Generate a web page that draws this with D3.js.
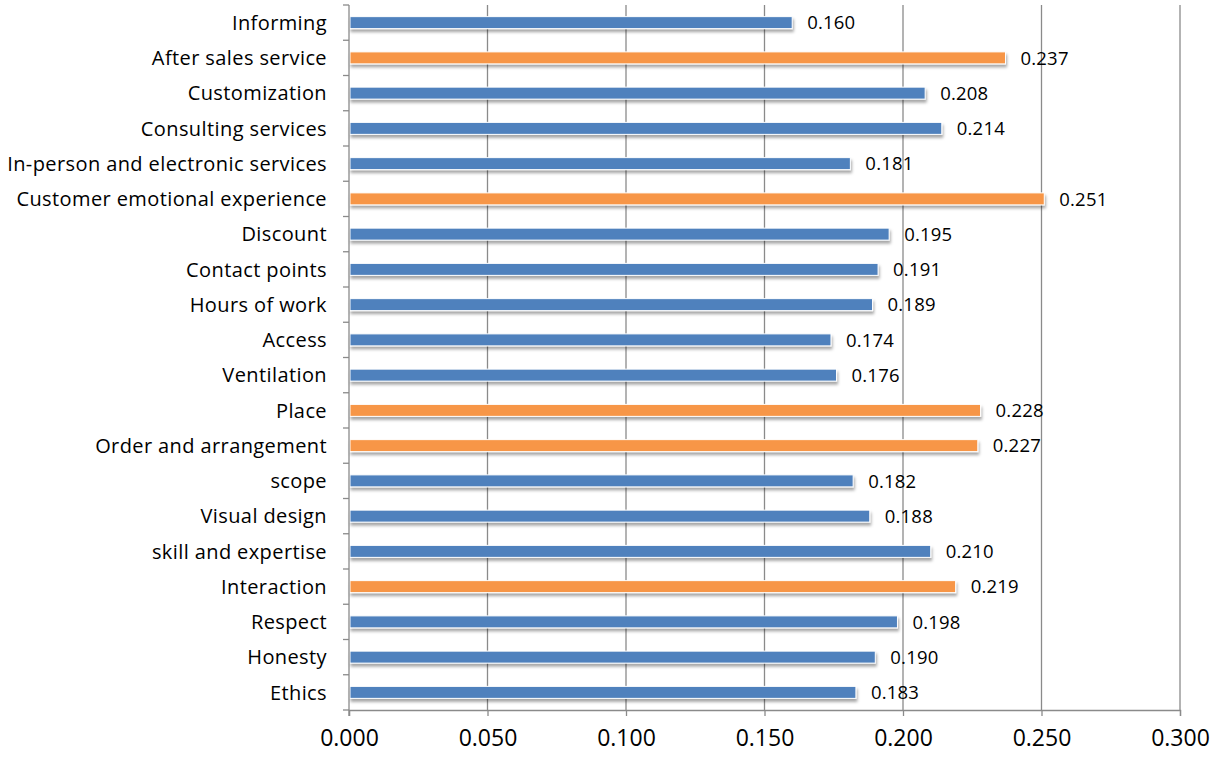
<!DOCTYPE html>
<html>
<head>
<meta charset="utf-8">
<script src="https://cdn.jsdelivr.net/npm/d3@7"></script>
<style>
  html, body { margin: 0; padding: 0; background: #fff; }
  svg { display: block; font-family: "Open Sans", sans-serif; }
</style>
</head>
<body>
<svg id="chart" width="1214" height="760"></svg>
<script>
// Attribute weights, listed top to bottom
const categories = [
  "Informing", "After sales service", "Customization", "Consulting services",
  "In-person and electronic services", "Customer emotional experience", "Discount",
  "Contact points", "Hours of work", "Access", "Ventilation", "Place",
  "Order and arrangement", "scope", "Visual design", "skill and expertise",
  "Interaction", "Respect", "Honesty", "Ethics"
];
const weights = [
  0.160, 0.237, 0.208, 0.214, 0.181, 0.251, 0.195, 0.191, 0.189, 0.174,
  0.176, 0.228, 0.227, 0.182, 0.188, 0.210, 0.219, 0.198, 0.190, 0.183
];
// Attributes drawn in the accent colour
const highlighted = [
  "After sales service", "Customer emotional experience", "Place",
  "Order and arrangement", "Interaction"
];
const xTicks = [0, 0.05, 0.10, 0.15, 0.20, 0.25, 0.30];

const data = categories.map((c, i) => ({ name: c, value: weights[i] }));

const svg = d3.select("#chart");
const margin = { top: 5, right: 34, bottom: 50, left: 349 };
const W = 1214, H = 760;
const innerW = W - margin.left - margin.right;
const innerH = H - margin.top - margin.bottom;

const defs = svg.append("defs");
const shadow = defs.append("filter").attr("id", "barShadow")
  .attr("x", "-5%").attr("y", "-50%").attr("width", "110%").attr("height", "220%");
shadow.append("feDropShadow")
  .attr("dx", 1).attr("dy", 3).attr("stdDeviation", 1.6)
  .attr("flood-color", "#000").attr("flood-opacity", 0.35);

const g = svg.append("g").attr("transform", `translate(${margin.left},${margin.top})`);

const x = d3.scaleLinear().domain([0, 0.3]).range([0, innerW]);
const y = d3.scaleBand().domain(categories).range([0, innerH]).paddingInner(0.66).paddingOuter(0.33);
const yEdge = d3.scaleLinear().domain([0, categories.length]).range([0, innerH]);

// vertical gridlines
g.append("g").selectAll("line")
  .data(xTicks.slice(1))
  .join("line")
  .attr("x1", d => x(d)).attr("x2", d => x(d))
  .attr("y1", 0).attr("y2", innerH)
  .attr("stroke", "#8a8a8a").attr("stroke-width", 1.3);

// bars
g.append("g").selectAll("rect")
  .data(data)
  .join("rect")
  .attr("x", x(0) + 1)
  .attr("y", d => y(d.name))
  .attr("width", d => x(d.value) - x(0) - 1)
  .attr("height", y.bandwidth())
  .attr("fill", d => highlighted.includes(d.name) ? "#F79646" : "#4F81BD")
  .attr("stroke", "#fff").attr("stroke-width", 1)
  .attr("filter", "url(#barShadow)");

// value labels
g.append("g").selectAll("text")
  .data(data)
  .join("text")
  .attr("x", d => x(d.value) + 15)
  .attr("y", d => y(d.name) + y.bandwidth() / 2)
  .attr("dy", "0.37em")
  .attr("font-size", 18.5)
  .attr("letter-spacing", 0.2)
  .attr("fill", "#000")
  .text(d => d3.format(".3f")(d.value));

// y axis line + ticks at category edges
const axisColor = "#8a8a8a";
g.append("line")
  .attr("x1", 0).attr("x2", 0).attr("y1", 0).attr("y2", innerH + 6)
  .attr("stroke", axisColor).attr("stroke-width", 1.3);
g.append("g").selectAll("line")
  .data(d3.range(categories.length + 1))
  .join("line")
  .attr("x1", -6).attr("x2", 0)
  .attr("y1", d => yEdge(d)).attr("y2", d => yEdge(d))
  .attr("stroke", axisColor).attr("stroke-width", 1.3);

// category labels
g.append("g").selectAll("text")
  .data(categories)
  .join("text")
  .attr("x", -22)
  .attr("y", d => y(d) + y.bandwidth() / 2)
  .attr("dy", "0.36em")
  .attr("text-anchor", "end")
  .attr("font-size", 20)
  .attr("letter-spacing", 0.4)
  .attr("fill", "#000")
  .text(d => d);

// x axis
const xAxis = d3.axisBottom(x).tickValues(xTicks).tickFormat(d3.format(".3f")).tickSize(6).tickPadding(14);
const xg = g.append("g").attr("transform", `translate(0,${innerH})`).call(xAxis);
xg.select(".domain").attr("stroke", axisColor).attr("stroke-width", 1.3);
xg.selectAll(".tick line").attr("stroke", axisColor).attr("stroke-width", 1.3);
xg.selectAll(".tick text").attr("font-size", 23).attr("fill", "#000")
  .attr("font-family", "'Open Sans', sans-serif");
</script>
</body>
</html>
